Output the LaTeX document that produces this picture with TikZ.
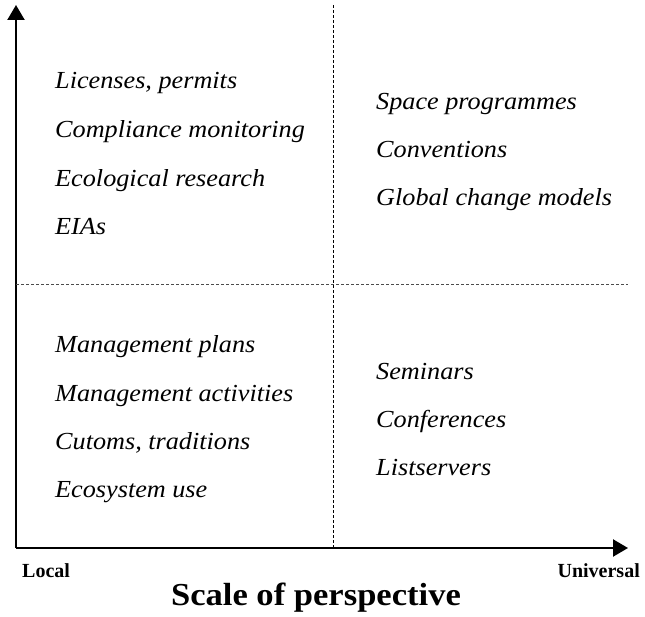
\documentclass[tikz,border=0pt]{standalone}
\usepackage{fontspec}
\setmainfont{Liberation Serif}
\newfontfamily\itemfont{Liberation Serif}[FakeStretch=1.07]
\newfontfamily\titlefont{Liberation Serif}[FakeStretch=1.08]
\usetikzlibrary{arrows.meta}
\begin{document}
\begin{tikzpicture}[x=1pt,y=-1pt,
  axis/.style={line width=2.2pt,-{Triangle[length=15pt,width=17pt]}},
  divider/.style={line width=0.8pt,dash pattern=on 3pt off 2pt},
  item/.style={anchor=base west,inner sep=0pt,font=\itemfont\fontsize{24.5}{24.5}\selectfont\itshape},
  endlabel/.style={inner sep=0pt,font=\fontsize{20}{20}\selectfont\bfseries},
  title/.style={inner sep=0pt,anchor=base,font=\titlefont\fontsize{32}{32}\selectfont\bfseries}]
\useasboundingbox (0,0) rectangle (645,617);

% axes
\coordinate (origin) at (16,548);
\coordinate (ytip) at (16,5);
\coordinate (xtip) at (628,548);
\draw[axis] (origin) -- (ytip);
\draw[axis] (origin) -- (xtip);

% quadrant dividers
\coordinate (vtop) at (333,5);
\coordinate (vbot) at (333,548);
\coordinate (hleft) at (16,284);
\coordinate (hright) at (628,284);
\draw[divider] (vtop) -- (vbot);
\draw[divider,black!70] (hleft) -- (hright);

% upper left
\node[item] (ul1) at (55,89) {Licenses, permits};
\node[item] (ul2) at (55,138) {Compliance monitoring};
\node[item] (ul3) at (55,187) {Ecological research};
\node[item] (ul4) at (55,235) {EIAs};

% upper right
\node[item] (ur1) at (376,110) {Space programmes};
\node[item] (ur2) at (376,158) {Conventions};
\node[item] (ur3) at (376,206) {Global change models};

% lower left
\node[item] (ll1) at (55,353) {Management plans};
\node[item] (ll2) at (55,401) {Management activities};
\node[item] (ll3) at (55,449) {Cutoms, traditions};
\node[item] (ll4) at (55,497) {Ecosystem use};

% lower right
\node[item] (lr1) at (376,379) {Seminars};
\node[item] (lr2) at (376,427) {Conferences};
\node[item] (lr3) at (376,475) {Listservers};

% axis labels
\node[endlabel,anchor=base west] (local) at (22,577) {Local};
\node[endlabel,anchor=base east] (universal) at (640,577) {Universal};
\node[title] (scale) at (316,605) {Scale of perspective};
\end{tikzpicture}
\end{document}
